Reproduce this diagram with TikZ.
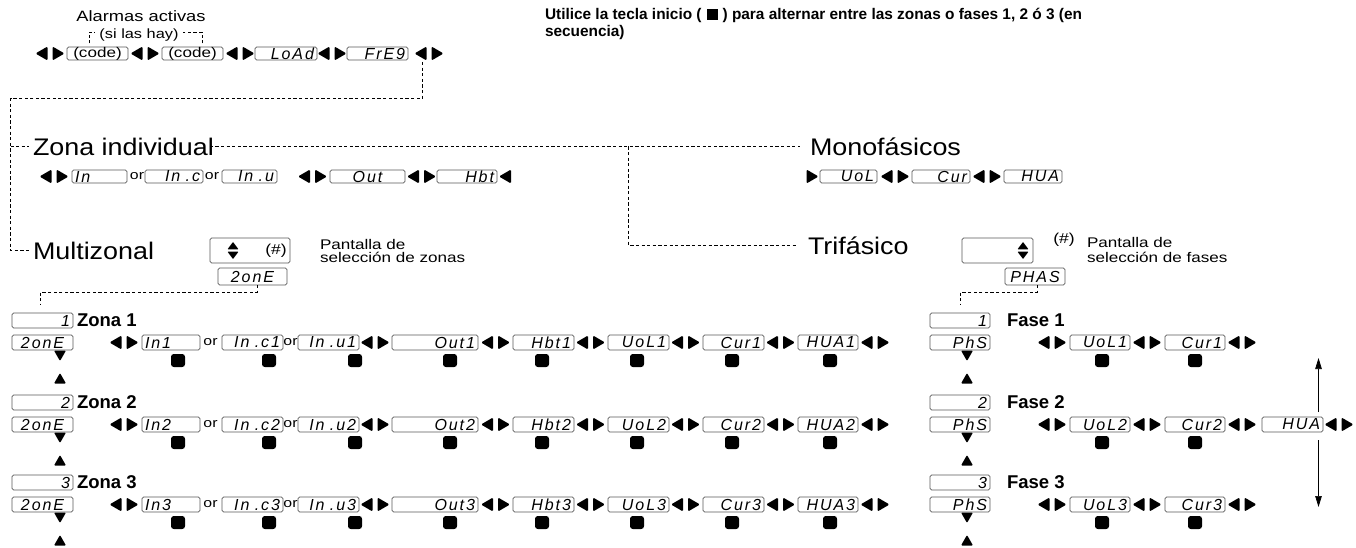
\documentclass[tikz,border=0pt]{standalone}
\usepackage{fontspec}
\setmainfont{Liberation Sans}
\newfontfamily\labfont{Liberation Sans}[FakeStretch=1.22]
\newfontfamily\bigfont{Liberation Sans}[FakeStretch=1.12]
\newfontfamily\segfont{Liberation Sans}[LetterSpace=12]
\usetikzlibrary{arrows.meta}
\newcommand\segf{\segfont\itshape\fontsize{16}{16}\selectfont}
\newcommand\bigf{\bigfont\fontsize{24}{26}\selectfont}
\newcommand\alarmf{\labfont\fontsize{15}{16}\selectfont}
\newcommand\hayf{\labfont\fontsize{13.4}{14}\selectfont}
\newcommand\codef{\labfont\fontsize{14}{14}\selectfont}
\newcommand\orf{\labfont\fontsize{13}{13}\selectfont}
\newcommand\hashf{\labfont\fontsize{14.4}{14.4}\selectfont}
\newcommand\pantf{\labfont\fontsize{14}{13.5}\selectfont}
\newcommand\zonef{\bfseries\fontsize{18.5}{19}\selectfont}
\newcommand\notef{\bfseries\fontsize{15.4}{17.5}\selectfont}
\newcommand\keysym{\hspace{5pt}\raisebox{-0.5pt}{\rule{11pt}{11pt}}\hspace{5pt}}
\tikzset{
  pics/lr/.style={code={\fill[rounded corners=1.2pt] (-2.5,-7)--(-2.5,7)--(-14.5,0)--cycle; \fill[rounded corners=1.2pt] (2.5,-7)--(2.5,7)--(14.5,0)--cycle;}},
  pics/la/.style={code={\fill[rounded corners=1.2pt] (6,-7)--(6,7)--(-6,0)--cycle;}},
  pics/ra/.style={code={\fill[rounded corners=1.2pt] (-6,-7)--(-6,7)--(6,0)--cycle;}},
  pics/dn/.style={code={\fill[rounded corners=1pt] (-6,-5)--(6,-5)--(0,5.5)--cycle;}},
  pics/up/.style={code={\fill[rounded corners=1pt] (-6,5)--(6,5)--(0,-5.5)--cycle;}},
  pics/key/.style={code={\fill[rounded corners=2.8pt] (-7,-6.5) rectangle (7,6.5);}},
  pics/ud/.style={code={\fill[rounded corners=0.6pt] (-5.5,-1.2)--(5.5,-1.2)--(0,-8.5)--cycle; \fill[rounded corners=0.6pt] (-5.5,1.2)--(5.5,1.2)--(0,8.5)--cycle;}},
}
\begin{document}
\begin{tikzpicture}[x=1pt,y=-1pt,
  every node/.style={inner sep=0pt,outer sep=0pt},
  disp/.style={draw=black!65,line width=0.8pt,rounded corners=1.6pt,minimum height=15pt,inner xsep=3pt,font=\segf},
  dw/.style 2 args={minimum width=#1pt,text width=#2pt},
  big/.style={font=\bigf,anchor=west},
  dsh/.style={line width=0.8pt,dash pattern=on 3.2pt off 2.4pt},
  arr/.style={line width=0.7pt,-{Triangle[length=11pt,width=6.5pt]}}]
\useasboundingbox (0,0) rectangle (1356,548);
\fill[white] (0,0) rectangle (1356,548);

% ---- top row
\node[font=\alarmf] (alarm) at (141,16) {Alarmas activas};
\node[font=\hayf] (hay) at (139,35) {(si las hay)};
\pic at (50,53.5) {lr};
\node[disp,dw={61}{55},minimum height=13pt,font=\codef,align=center] (code1) at (97.5,53.5) {(code)};
\pic at (145,53.5) {lr};
\node[disp,dw={61}{55},minimum height=13pt,font=\codef,align=center] (code2) at (192.5,53.5) {(code)};
\pic at (240,53.5) {lr};
\node[disp,dw={62}{56},minimum height=13pt,align=right] (load) at (286,53.5) {LoAd};
\pic at (332,53.5) {lr};
\node[disp,dw={61}{55},minimum height=13pt,align=right] (freq) at (377.5,53.5) {FrE9};
\pic at (429,53.5) {lr};
\draw[dsh] ([xshift=-8.5pt,yshift=3.5pt]code1.north) |- ([xshift=-4pt,yshift=3pt]hay.west);
\draw[dsh] ([xshift=9.5pt,yshift=3.5pt]code2.north) |- ([xshift=4pt,yshift=3pt]hay.east);

% ---- note
\node[anchor=north west,align=left,font=\notef] (note) at (545,8) {Utilice la tecla inicio (\keysym) para alternar entre las zonas o fases 1, 2 ó 3 (en\\secuencia)};

% ---- section labels
\node[big] (zind) at (33,146.5) {Zona individual};
\node[big] (mono) at (810,146.5) {Monofásicos};
\node[big] (multi) at (33,250.5) {Multizonal};
\node[big] (tri) at (808,245.5) {Trifásico};

\coordinate (t0) at (422.5,62);
\coordinate (t1) at (422.5,98.5);
\coordinate (t2) at (10.5,98.5);
\coordinate (t3) at (628.5,146.5);
\draw[dsh] (t0) -- (t1) -- (t2) |- ([xshift=-4pt]multi.west);
\draw[dsh] (t2 |- zind.west) -- ([xshift=-4pt]zind.west);
\draw[dsh] ([xshift=-4pt]zind.east) -- ([xshift=-10pt]mono.west);
\draw[dsh] (t3) |- ([xshift=-10pt]tri.west);

% ---- zona individual row
\pic at (54,176.5) {lr};
\node[disp,dw={55}{49},minimum height=13pt,align=left] (zia) at (99.5,176.5) {In};
\node[font=\orf] (zor1) at (137,176.5) {or};
\node[disp,dw={58}{52},minimum height=13pt,align=right] (zib) at (174,176.5) {In .c};
\node[font=\orf] (zor2) at (212,176.5) {or};
\node[disp,dw={55}{49},minimum height=13pt,align=right] (zic) at (249.5,176.5) {In .u};
\pic at (312.5,176.5) {lr};
\node[disp,dw={75}{69},minimum height=13pt,align=center] (zid) at (367.5,176.5) {Out};
\pic at (421.5,176.5) {lr};
\node[disp,dw={60}{54},minimum height=13pt,align=right] (zie) at (467,176.5) {Hbt};
\pic at (505,176.5) {la};

% ---- monofasicos row
\pic at (812.5,176.5) {ra};
\node[disp,dw={57}{51},minimum height=13pt,align=right] (moa) at (848.5,176.5) {UoL};
\pic at (895,176.5) {lr};
\node[disp,dw={58}{52},minimum height=13pt,align=right] (mob) at (941,176.5) {Cur};
\pic at (987,176.5) {lr};
\node[disp,dw={58}{52},minimum height=13pt,align=right] (moc) at (1033,176.5) {HUA};

% ---- multizonal selection
\node[disp,minimum width=80pt,minimum height=25pt] (msel) at (250,250.5) {};
\pic at (233,250.5) {ud};
\node[font=\hashf] (mhash) at (276,250.5) {(\#)};
\node[disp,minimum width=69pt,minimum height=17pt] (mzone) at (252.5,276.5) {2onE};
\node[anchor=west,align=left,font=\pantf] (mpant) at (320,251) {Pantalla de\\selección de zonas};
\coordinate (m1) at (40.5,305);
\draw[dsh] ([xshift=4.5pt]mzone.south) -- ++(0,7) -| (m1);

% ---- trifasico selection
\node[disp,minimum width=71pt,minimum height=25pt] (tsel) at (997.5,250.5) {};
\pic at (1023,250.5) {ud};
\node[font=\hashf] (thash) at (1064,240) {(\#)};
\node[anchor=west,align=left,font=\pantf] (tpant) at (1087,249.5) {Pantalla de\\[1.5pt]selección de fases};
\node[disp,minimum width=60pt,minimum height=17pt] (phas) at (1035,276.5) {PHAS};
\coordinate (p1) at (960.5,305);
\draw[dsh] ([xshift=2pt]phas.south) -- ++(0,7) -| (p1);

% ---- zone rows
\foreach \rw/\c in {1/320.5,2/402.5,3/482.5}{
  \pgfmathsetmacro\yd{\c+22}
  \pgfmathsetmacro\yk{\c+40}
  \pgfmathsetmacro\yv{\c+35}
  \pgfmathsetmacro\yu{\c+58}
  \node[disp,dw={61}{55},align=right] (zn\rw) at (42.5,\c) {\rw};
  \node[font=\zonef,anchor=west] (zl\rw) at (77,\c) {Zona \rw};
  \node[disp,dw={61}{55},align=center] (zz\rw) at (42.5,\yd) {2onE};
  \pic at (60,\yv) {dn};
  \pic at (60,\yu) {up};
  \pic at (124,\yd) {lr};
  \node[disp,dw={58}{52},align=left] (zi\rw) at (171,\yd) {In\rw};
  \node[font=\orf] (zoa\rw) at (210.5,\yd) {or};
  \node[disp,dw={61}{55},align=right] (zc\rw) at (252.5,\yd) {In .c\rw};
  \node[font=\orf] (zob\rw) at (290.5,\yd) {or};
  \node[disp,dw={61}{55},align=right] (zu\rw) at (328.5,\yd) {In .u\rw};
  \pic at (375,\yd) {lr};
  \node[disp,dw={86}{80},align=right] (zo\rw) at (435,\yd) {Out\rw};
  \pic at (495.5,\yd) {lr};
  \node[disp,dw={61}{55},align=right] (zh\rw) at (543.5,\yd) {Hbt\rw};
  \pic at (590.5,\yd) {lr};
  \node[disp,dw={61}{55},align=right] (zv\rw) at (638.5,\yd) {UoL\rw};
  \pic at (685.5,\yd) {lr};
  \node[disp,dw={61}{55},align=right] (zcu\rw) at (733.5,\yd) {Cur\rw};
  \pic at (780.5,\yd) {lr};
  \node[disp,dw={60}{54},align=right] (zha\rw) at (828,\yd) {HUA\rw};
  \pic at (875,\yd) {lr};
  \foreach \kx in {178,269,355,450,542,637,732,830}{\pic at (\kx,\yk) {key};}
}

% ---- phase rows
\foreach \rw/\c in {1/320.5,2/402.5,3/482.5}{
  \pgfmathsetmacro\yd{\c+22}
  \pgfmathsetmacro\yk{\c+40}
  \pgfmathsetmacro\yv{\c+35}
  \pgfmathsetmacro\yu{\c+58}
  \node[disp,dw={60}{54},align=right] (pn\rw) at (960,\c) {\rw};
  \node[font=\zonef,anchor=west] (pl\rw) at (1007,\c) {Fase \rw};
  \node[disp,dw={60}{54},align=right] (ph\rw) at (960,\yd) {PhS};
  \pic at (967,\yv) {dn};
  \pic at (967,\yu) {up};
  \pic at (1052,\yd) {lr};
  \node[disp,dw={60}{54},align=right] (pv\rw) at (1100,\yd) {UoL\rw};
  \pic at (1147,\yd) {lr};
  \node[disp,dw={60}{54},align=right] (pc\rw) at (1195,\yd) {Cur\rw};
  \pic at (1242,\yd) {lr};
  \pic at (1102,\yk) {key};
  \pic at (1195,\yk) {key};
}
\node[disp,dw={61}{55},align=right] (phua) at (1292.5,424.5) {HUA};
\pic at (1339,424.5) {lr};
\coordinate (at) at (1318.5,358);
\coordinate (ab) at (1318.5,507);
\draw[arr] ([yshift=5pt]phua.north -| at) -- (at);
\draw[arr] ([yshift=-8pt]phua.south -| ab) -- (ab);
\end{tikzpicture}
\end{document}
